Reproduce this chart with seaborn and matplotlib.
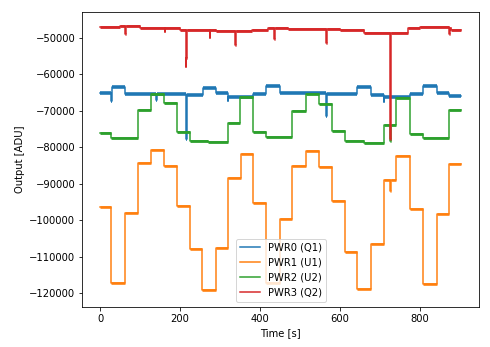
import matplotlib
matplotlib.use("Agg")
import matplotlib.pyplot as plt
import seaborn as sns
import pandas as pd

# Step-wise detector outputs: segment edges [s] and the level held on each segment [ADU]
pwr0_t = [0, 27.6, 28.6, 61, 140, 141, 214, 217, 257, 290, 320, 321, 383, 415, 450,
          566, 568, 643, 678, 711, 712, 777, 809, 844, 874, 904]
pwr0_v = [-65300, -67300, -63400, -65500, -67000, -65500, -77800, -65600, -63700,
          -65100, -67300, -66300, -65400, -63300, -65300, -71500, -65400, -63500,
          -65600, -67700, -66400, -65400, -63200, -65300, -65900]

pwr1_t = [0, 27.6, 61, 95, 126, 159, 191, 224, 256, 289.5, 320, 352, 383, 415, 450,
          481, 514.6, 547, 580, 614, 644, 678, 711, 726, 728, 742, 777, 809, 844,
          874.5, 904]
pwr1_v = [-96500, -117100, -98100, -84300, -80800, -85100, -96100, -108000, -119100,
          -107700, -88400, -82000, -95200, -117300, -99600, -85200, -81100, -85500,
          -94800, -108800, -118900, -106600, -89000, -92000, -89000, -82400, -97000,
          -117500, -98300, -84600]

pwr2_t = [0, 27.6, 95, 128, 159, 191, 224, 270, 320, 351, 383, 415, 481, 514.6, 547,
          580, 614, 660, 711, 727, 729.5, 742, 777, 809, 874.5, 904]
pwr2_v = [-76200, -77400, -69900, -65500, -67900, -75900, -78200, -78700, -73400,
          -66250, -75900, -77300, -70200, -65500, -68200, -75600, -78300, -79000,
          -73900, -78300, -73900, -66500, -76300, -77600, -69900]

pwr3_t = [0, 50, 63, 64.5, 100, 161, 162.5, 200, 213.5, 214.5, 215.5, 216.5, 274, 275.5,
          290, 338.5, 340, 380, 420, 436, 437.5, 470, 566, 567.5, 600, 660, 727,
          729.5, 770, 800, 874, 875.5, 880, 904]
pwr3_v = [-47000, -46800, -49000, -46900, -47300, -48400, -47500, -47800, -55600,
          -58000, -55600, -47900, -50000, -48000, -48300, -52000, -48300, -48000,
          -47500, -50500, -47400, -47600, -51500, -47700, -47900, -48700, -77800,
          -48700, -47500, -47100, -48900, -47400, -47800]

labels = ["PWR0 (Q1)", "PWR1 (U1)", "PWR2 (U2)", "PWR3 (Q2)"]
series = [(pwr0_t, pwr0_v), (pwr1_t, pwr1_v), (pwr2_t, pwr2_v), (pwr3_t, pwr3_v)]
colors = ["#1f77b4", "#ff7f0e", "#2ca02c", "#d62728"]
# thickness of the noisy plateaus, in points
bands = [3.6, 2.6, 2.8, 2.8]

fig = plt.figure(figsize=(490 / 72, 347 / 72), dpi=72)
ax = fig.add_axes([0.168, 0.1153, 0.9776 - 0.168, 0.9663 - 0.1153])

for i, ((t, v), lab, col, bw) in enumerate(zip(series, labels, colors, bands)):
    df = pd.DataFrame({"Time": t, "Output": v + [v[-1]]})
    sns.lineplot(data=df, x="Time", y="Output", ax=ax, color=col, lw=1.5,
                 label=lab, sort=False, estimator=None, drawstyle="steps-post",
                 zorder=2 + i)
    # plateaus are drawn wider to show the readout noise band
    ax.hlines(v, t[:-1], t[1:], colors=col, lw=bw, zorder=2 + i)

ax.set_xlim(-45.2, 949.2)
ax.set_ylim(-123800, -42900)
ax.set_xticks([0, 200, 400, 600, 800])
ax.set_yticks(range(-120000, -40000, 10000))
ax.set_xlabel("Time [s]")
ax.set_ylabel("Output [ADU]")

leg = ax.legend(loc="lower center")
leg.set_zorder(10)
for h in leg.get_lines():
    h.set_linewidth(1.5)

fig.savefig("out.png", dpi=72)
